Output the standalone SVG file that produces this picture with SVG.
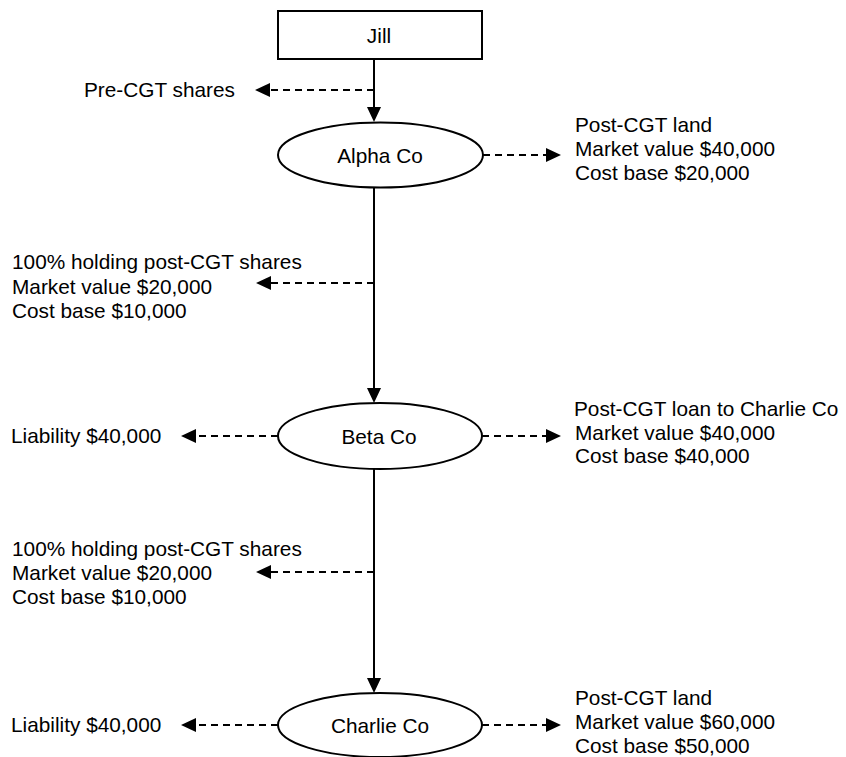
<svg xmlns="http://www.w3.org/2000/svg" width="846" height="757" viewBox="0 0 846 757">
  <style>
    text { font-family: "Liberation Sans", Arial, sans-serif; font-size: 20.8px; fill: #000; }
    .node { fill: #fff; stroke: #000; stroke-width: 2; }
    .solid { stroke: #000; stroke-width: 2; fill: none; }
    .dash { stroke: #000; stroke-width: 2; fill: none; stroke-dasharray: 7 5; }
    .c { text-anchor: middle; }
  </style>
  <defs>
    <marker id="arr" markerUnits="userSpaceOnUse" markerWidth="15" markerHeight="14" refX="1" refY="7" orient="auto">
      <path d="M0,0 L15,7 L0,14 z" fill="#000"/>
    </marker>
  </defs>
  <rect width="846" height="757" fill="#fff"/>

  <g id="connectors">
    <line class="solid" x1="374" y1="59" x2="374" y2="108" marker-end="url(#arr)"/>
    <line class="dash" x1="374" y1="90" x2="269" y2="90" marker-end="url(#arr)"/>
    <line class="dash" x1="483" y1="155" x2="547" y2="155" marker-end="url(#arr)"/>
    <line class="solid" x1="374" y1="187" x2="374" y2="389" marker-end="url(#arr)"/>
    <line class="dash" x1="374" y1="283" x2="270" y2="283" marker-end="url(#arr)"/>
    <line class="dash" x1="278" y1="436" x2="195" y2="436" marker-end="url(#arr)"/>
    <line class="dash" x1="482" y1="436" x2="547" y2="436" marker-end="url(#arr)"/>
    <line class="solid" x1="374" y1="469" x2="374" y2="679" marker-end="url(#arr)"/>
    <line class="dash" x1="374" y1="572" x2="270" y2="572" marker-end="url(#arr)"/>
    <line class="dash" x1="278" y1="725" x2="195" y2="725" marker-end="url(#arr)"/>
    <line class="dash" x1="482" y1="725" x2="547" y2="725" marker-end="url(#arr)"/>
  </g>

  <g id="jill">
    <rect class="node" x="278" y="11" width="204" height="48"/>
    <text class="c" x="379" y="42.5">Jill</text>
  </g>

  <g id="alpha">
    <ellipse class="node" cx="380.5" cy="155" rx="102.5" ry="32.5"/>
    <text class="c" x="380" y="162.5">Alpha Co</text>
  </g>

  <g id="beta">
    <ellipse class="node" cx="380" cy="436" rx="102" ry="33"/>
    <text class="c" x="379" y="443.5">Beta Co</text>
  </g>

  <g id="charlie">
    <ellipse class="node" cx="380" cy="725" rx="102" ry="32"/>
    <text class="c" x="380" y="732.5">Charlie Co</text>
  </g>

  <g id="label-precgt">
    <text x="235" y="97" text-anchor="end">Pre-CGT shares</text>
  </g>

  <g id="label-alpha-land">
    <text x="575" y="132">Post-CGT land</text>
    <text x="575" y="156">Market value $40,000</text>
    <text x="575" y="180">Cost base $20,000</text>
  </g>

  <g id="label-beta-shares">
    <text x="12" y="269">100% holding post-CGT shares</text>
    <text x="12" y="293.5">Market value $20,000</text>
    <text x="12" y="318">Cost base $10,000</text>
  </g>

  <g id="label-beta-liability">
    <text x="11" y="443">Liability $40,000</text>
  </g>

  <g id="label-beta-loan">
    <text x="574" y="416">Post-CGT loan to Charlie Co</text>
    <text x="575" y="439.5">Market value $40,000</text>
    <text x="575" y="463">Cost base $40,000</text>
  </g>

  <g id="label-charlie-shares">
    <text x="12" y="556">100% holding post-CGT shares</text>
    <text x="12" y="580">Market value $20,000</text>
    <text x="12" y="604">Cost base $10,000</text>
  </g>

  <g id="label-charlie-liability">
    <text x="11" y="732">Liability $40,000</text>
  </g>

  <g id="label-charlie-land">
    <text x="575" y="705">Post-CGT land</text>
    <text x="575" y="729">Market value $60,000</text>
    <text x="575" y="753">Cost base $50,000</text>
  </g>
</svg>
